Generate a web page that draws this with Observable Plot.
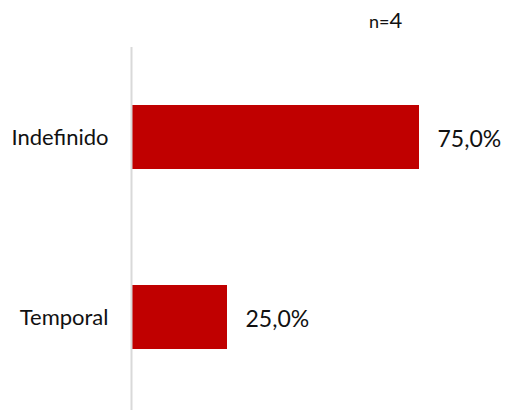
<!DOCTYPE html>
<html>
<head>
<meta charset="utf-8">
<script src="https://cdn.jsdelivr.net/npm/d3@7"></script>
<script src="https://cdn.jsdelivr.net/npm/@observablehq/plot@0.6"></script>
<style>
  html, body { margin: 0; padding: 0; background: #fff; }
  #chart { position: relative; width: 505px; height: 410px; }
  #note { position: absolute; left: 369px; top: 6px; font-family: Lato, "Noto Sans", sans-serif; color: #111; white-space: nowrap; }
  #note .a { font-size: 18px; }
  #note .b { font-size: 22px; }
</style>
</head>
<body>
<div id="chart"><div id="note"><span class="a">n=</span><span class="b">4</span></div></div>
<script>
const categories = ["Indefinido", "Temporal"];
const values = [0.75, 0.25];
const labels = ["75,0%", "25,0%"];

const data = categories.map((c, i) => ({category: c, value: values[i], label: labels[i]}));

const plot = Plot.plot({
  width: 505,
  height: 410,
  marginTop: 47,
  marginBottom: 0,
  marginLeft: 131,
  marginRight: 0,
  style: {fontFamily: "Lato, 'Noto Sans', sans-serif", background: "#fff", color: "#111"},
  x: {domain: [0, 1], range: [131, 515], axis: null},
  y: {domain: categories, range: [47, 407], paddingInner: 0.647, paddingOuter: 0.3235, label: null},
  marks: [
    Plot.barX(data, {x: "value", y: "category", fill: "#c00000"}),
    Plot.ruleX([0], {stroke: "#d9d9d9", strokeWidth: 2}),
    Plot.text(data, {x: "value", y: "category", text: "label", textAnchor: "start", dx: 18, dy: 2, fontSize: 23, fill: "#111"}),
    Plot.axisY({tickSize: 0, tickPadding: 23, fontSize: 22, label: null})
  ]
});
plot.style.position = "absolute";
plot.style.left = "0";
plot.style.top = "0";
document.getElementById("chart").prepend(plot);
</script>
</body>
</html>
